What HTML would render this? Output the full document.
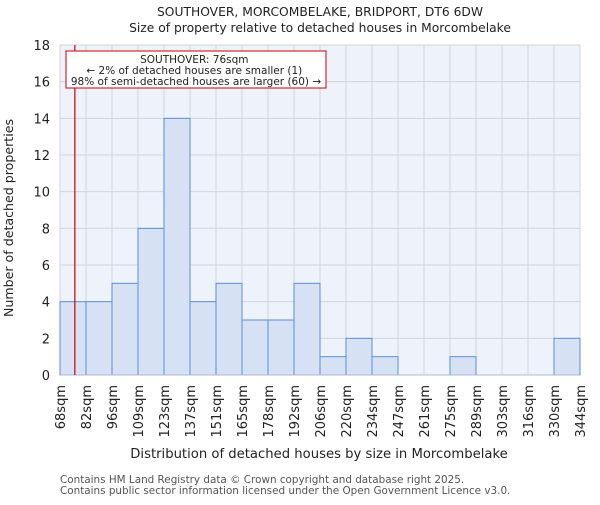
<!DOCTYPE html>
<html><head><meta charset="utf-8"><style>
body{margin:0;background:#fff;font-family:"Liberation Sans","DejaVu Sans",sans-serif;}
svg text{font-family:"DejaVu Sans","Liberation Sans",sans-serif;}
</style></head><body>
<svg id="chart" width="600" height="500" xmlns="http://www.w3.org/2000/svg">
<text x="320" y="16" text-anchor="middle" font-size="12.3" fill="#222">SOUTHOVER, MORCOMBELAKE, BRIDPORT, DT6 6DW</text>
<text x="320" y="32" text-anchor="middle" font-size="12.3" fill="#222">Size of property relative to detached houses in Morcombelake</text>
<rect x="60" y="45" width="520" height="330" fill="#eef2fb"/>
<g id="grid"></g>
<g id="bars"></g>
<g id="yticks"></g>
<g id="xticks"></g>
<line x1="60" y1="375" x2="580" y2="375" stroke="#b0b8c8" stroke-width="1"/>
<line id="marker" stroke="#cc0000" stroke-width="1.2"/>
<rect x="66" y="51" width="260" height="37" fill="#fff" stroke="#cc0000" stroke-width="1"/>
<text text-anchor="middle" font-size="10.5" fill="#222">
<tspan x="196" y="63">SOUTHOVER: 76sqm</tspan>
<tspan x="196" y="74">← 2% of detached houses are smaller (1)</tspan>
<tspan x="196" y="85">98% of semi-detached houses are larger (60) →</tspan></text>
<text transform="translate(13,218) rotate(-90)" text-anchor="middle" font-size="12.6" fill="#222">Number of detached properties</text>
<text x="319" y="458" text-anchor="middle" font-size="13.2" fill="#222">Distribution of detached houses by size in Morcombelake</text>
<text x="60" y="483" font-size="10.4" fill="#555">Contains HM Land Registry data © Crown copyright and database right 2025.</text>
<text x="60" y="494" font-size="10.4" fill="#555">Contains public sector information licensed under the Open Government Licence v3.0.</text>
</svg>
<script>
const binLabels=["68sqm","82sqm","96sqm","109sqm","123sqm","137sqm","151sqm","165sqm","178sqm","192sqm","206sqm","220sqm","234sqm","247sqm","261sqm","275sqm","289sqm","303sqm","316sqm","330sqm","344sqm"];
const counts=[4,4,5,8,14,4,5,3,3,5,1,2,1,0,0,1,0,0,0,2];
const yTicks=[0,2,4,6,8,10,12,14,16,18];
const markerValue=76;
const binEdges=[68,82,96,109,123,137,151,165,178,192,206,220,234,247,261,275,289,303,316,330,344];
const NS="http://www.w3.org/2000/svg";
const X0=60,X1=580,Y0=375,Y1=45,YMAX=18;
const n=counts.length,bw=(X1-X0)/n;
const xi=i=>X0+i*bw;
const y=v=>Y0-(v/YMAX)*(Y0-Y1);
function mk(t,a){const e=document.createElementNS(NS,t);for(const k in a)e.setAttribute(k,a[k]);return e;}
const grid=document.getElementById('grid');
yTicks.forEach(v=>{const l=mk('line',{x1:X0,x2:X1,y1:y(v),y2:y(v),stroke:'#d0d4dc','stroke-width':1});

grid.appendChild(l);});
binLabels.forEach((s,i)=>{const l=mk('line',{x1:xi(i),x2:xi(i),y1:Y1,y2:Y0,stroke:'#d0d4dc','stroke-width':1});

grid.appendChild(l);});
const bars=document.getElementById('bars');
counts.forEach((c,i)=>{if(c<=0)return;const r=mk('rect',{x:xi(i),y:y(c),width:bw,height:Y0-y(c),fill:'#d6e1f3',stroke:'#5b8fd9','stroke-width':1});

bars.appendChild(r);});
const yt=document.getElementById('yticks');
yTicks.forEach(v=>{const t=mk('text',{x:X0-10,y:y(v)+5,'text-anchor':'end','font-size':13,fill:'#222'});t.textContent=v;

yt.appendChild(t);});
const xt=document.getElementById('xticks');
binLabels.forEach((s,i)=>{const t=mk('text',{transform:`translate(${xi(i)+5},${Y0+10}) rotate(-90)`,'text-anchor':'end','font-size':13,fill:'#222'});t.textContent=s;

xt.appendChild(t);});
let mi=0;for(let i=0;i<binEdges.length-1;i++){if(markerValue>=binEdges[i]&&markerValue<=binEdges[i+1]){mi=i;break;}}
const mx=xi(mi)+bw*(markerValue-binEdges[mi])/(binEdges[mi+1]-binEdges[mi]);
const m=document.getElementById('marker');m.setAttribute('x1',mx);m.setAttribute('x2',mx);m.setAttribute('y1',Y1);m.setAttribute('y2',Y0);
</script>
</body></html>
